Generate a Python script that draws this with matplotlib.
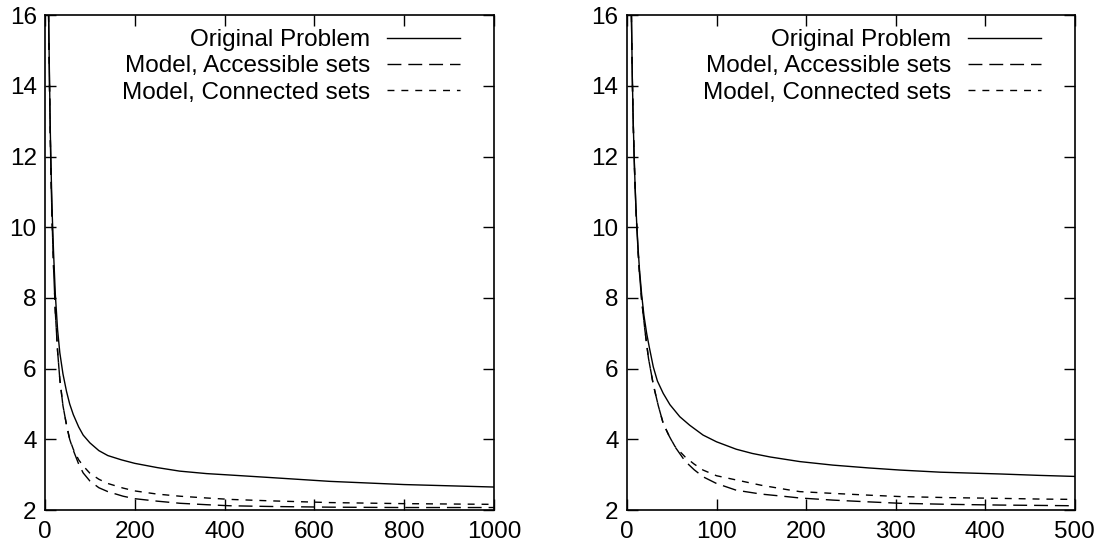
import matplotlib
matplotlib.use("Agg")
import matplotlib.pyplot as plt

plt.rcParams["font.family"] = ["Liberation Sans", "DejaVu Sans"]
plt.rcParams["font.size"] = 17.5

labels = ["Original Problem", "Model, Accessible sets", "Model, Connected sets"]

# left panel, n up to 1000
left_orig_x = [8, 10, 12, 14, 16, 19, 23, 28, 33, 40, 48, 55, 63, 75, 85, 100, 120,
               140, 170, 200, 250, 300, 360, 412, 500, 635, 800, 1000]
left_orig_y = [16, 14.2, 12.6, 11.4, 10.4, 9.3, 8.1, 7.1, 6.45, 5.85, 5.35, 5.0, 4.7,
               4.35, 4.12, 3.9, 3.68, 3.54, 3.42, 3.32, 3.2, 3.1, 3.03, 2.99, 2.92,
               2.81, 2.72, 2.65]
left_acc_x = [8, 10, 12, 14, 16, 19, 23, 28, 33, 40, 48, 55, 63, 75, 85, 100, 120,
              140, 174, 200, 250, 301, 360, 412, 500, 635, 800, 1000]
left_acc_y = [16, 14.0, 12.4, 11.1, 10.1, 8.9, 7.6, 6.5, 5.7, 4.95, 4.4, 4.0, 3.69,
              3.3, 3.05, 2.82, 2.63, 2.52, 2.39, 2.32, 2.25, 2.19, 2.15, 2.12, 2.1,
              2.08, 2.07, 2.07]
left_con_x = [8, 10, 12, 14, 16, 19, 23, 28, 33, 40, 48, 55, 63, 75, 85, 100, 120,
              140, 174, 200, 250, 301, 360, 412, 500, 635, 800, 1000]
left_con_y = [16, 14.0, 12.4, 11.1, 10.1, 8.9, 7.6, 6.5, 5.7, 4.95, 4.4, 4.0, 3.72,
              3.42, 3.25, 3.04, 2.87, 2.75, 2.62, 2.54, 2.45, 2.39, 2.34, 2.3, 2.26,
              2.21, 2.18, 2.16]

# right panel, n up to 500
right_orig_x = [5, 6, 7, 8, 9, 10, 11, 12.6, 14, 16.4, 19, 22, 25, 29.4, 34, 40.5, 48,
                59, 70, 85, 100, 122, 140, 160, 193, 230, 270, 305, 350, 416, 460, 500]
right_orig_y = [16, 14.25, 13.0, 12.05, 11.25, 10.6, 10.05, 9.34, 8.8, 8.1, 7.5, 7.0,
                6.6, 6.05, 5.65, 5.3, 4.98, 4.64, 4.4, 4.12, 3.93, 3.72, 3.6, 3.5, 3.37,
                3.27, 3.19, 3.13, 3.07, 3.02, 2.98, 2.95]
right_acc_x = [5, 6, 7, 8, 9, 10, 11, 12.6, 14, 16.4, 20, 24, 29.4, 35, 40.5, 47, 53.6,
               65, 75, 85, 100, 122, 150, 178, 193, 230, 270, 305, 360, 416, 460, 500]
right_acc_y = [16, 14.2, 12.95, 12.0, 11.2, 10.55, 10.0, 9.25, 8.7, 7.95, 7.1, 6.3,
               5.55, 4.95, 4.45, 4.1, 3.79, 3.38, 3.14, 2.94, 2.75, 2.56, 2.45, 2.38,
               2.34, 2.28, 2.23, 2.19, 2.16, 2.14, 2.13, 2.12]
right_con_x = [5, 6, 7, 8, 9, 10, 11, 12.6, 14, 16.4, 20, 24, 29.4, 35, 40.5, 47, 53.6,
               65, 75, 85, 100, 122, 150, 178, 193, 230, 270, 305, 360, 416, 460, 500]
right_con_y = [16, 14.2, 12.95, 12.0, 11.2, 10.55, 10.0, 9.25, 8.7, 7.95, 7.1, 6.3,
               5.55, 4.95, 4.45, 4.1, 3.8, 3.5, 3.3, 3.13, 2.97, 2.85, 2.7, 2.58, 2.52,
               2.47, 2.42, 2.38, 2.35, 2.33, 2.31, 2.30]

left_xticks = [0, 200, 400, 600, 800, 1000]
right_xticks = [0, 100, 200, 300, 400, 500]
yticks = [2, 4, 6, 8, 10, 12, 14, 16]


def draw_panel(ax, series, xmax, xticks):
    """Three curves in gnuplot style: ticks inside on every side, key at top right"""
    dashes = [None, (0, (10, 5)), (0, (5, 5))]
    for (x, y), label, dash in zip(series, labels, dashes):
        line, = ax.plot(x, y, color="black", lw=1.0, label=label)
        if dash is not None:
            line.set_linestyle(dash)
    ax.set_xlim(0, xmax)
    ax.set_ylim(2, 16)
    ax.set_xticks(xticks)
    ax.set_yticks(yticks)
    ax.tick_params(direction="in", length=8, width=1.0, top=True, right=True)
    ax.tick_params(axis="x", pad=8)
    ax.tick_params(axis="y", pad=6)
    for spine in ax.spines.values():
        spine.set_linewidth(1.2)
    ax.legend(loc="upper right", bbox_to_anchor=(0.924, 0.972), frameon=False,
              markerfirst=False, handlelength=3.0, handletextpad=0.7,
              labelspacing=0.18, borderpad=0, borderaxespad=0)


fig = plt.figure(figsize=(11.03, 5.51), dpi=100)
ax1 = fig.add_axes([0.0408, 0.0744, 0.407, 0.898])
ax2 = fig.add_axes([0.5684, 0.0744, 0.406, 0.898])

draw_panel(ax1, [(left_orig_x, left_orig_y), (left_acc_x, left_acc_y),
                 (left_con_x, left_con_y)], 1000, left_xticks)
draw_panel(ax2, [(right_orig_x, right_orig_y), (right_acc_x, right_acc_y),
                 (right_con_x, right_con_y)], 500, right_xticks)

fig.savefig("out.png", dpi=100)
